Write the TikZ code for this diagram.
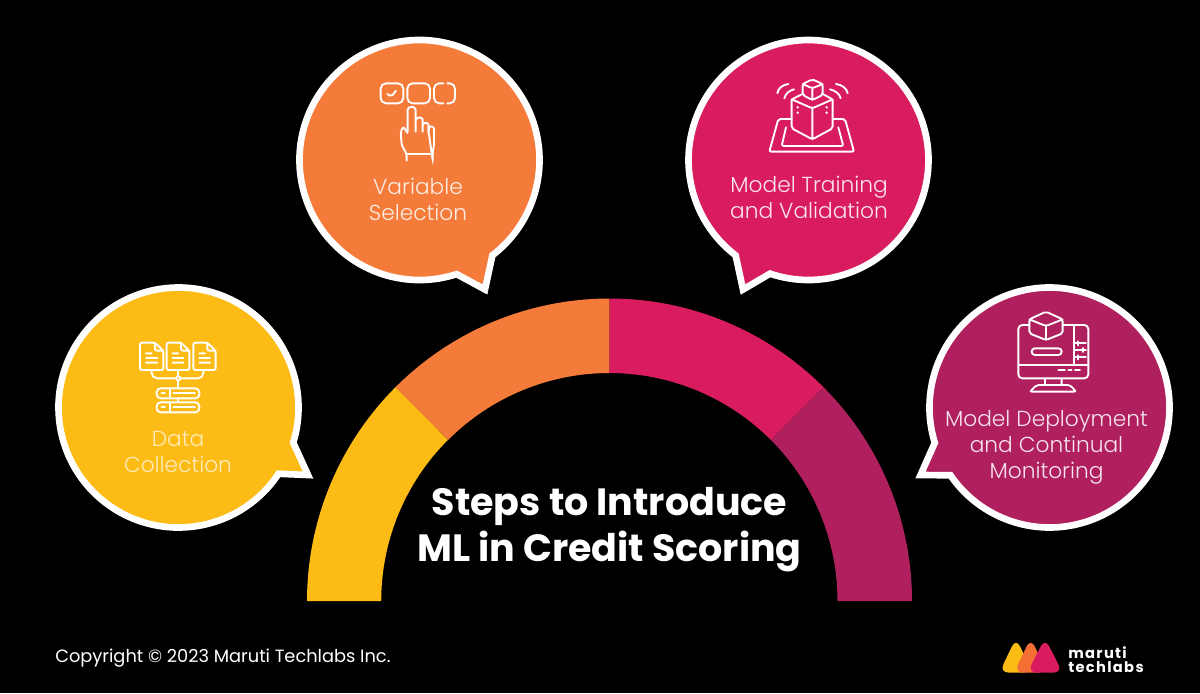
\documentclass[tikz,border=0pt]{standalone}
\usepackage{fontspec}
\setmainfont{Poppins}
\newfontfamily\poplight{Poppins Light}
\newfontfamily\logofont{Poppins}[LetterSpace=9]
\definecolor{ycol}{HTML}{FDBB16}
\definecolor{ocol}{HTML}{F47B3A}
\definecolor{pcol}{HTML}{D91C5F}
\definecolor{mcol}{HTML}{B01F5E}
\tikzset{
  bubble/.style={draw=white,line width=5pt,miter limit=10,line join=miter},
  icon/.style={draw=white,line width=1.4pt,rounded corners=1.5pt,line cap=round},
  labeltext/.style={text=white,align=center,inner sep=0pt,font=\poplight\fontsize{16.3pt}{19.5pt}\selectfont},
}

\begin{document}
\begin{tikzpicture}[x=0.75pt,y=0.75pt,yscale=-1,xscale=1]
\path[use as bounding box,fill=black] (0,0) rectangle (1200,693);

%Shape: ring parts
\fill[ycol] (307,601) arc[start angle=180,end angle=225,radius=302.5] -- (448,439.8) arc[start angle=225,end angle=180,radius=228] -- cycle;
\fill[ocol] (395.6,387.1) arc[start angle=225,end angle=270,radius=302.5] -- (609.5,373) arc[start angle=270,end angle=225,radius=228] -- cycle;
\fill[pcol] (609.5,298.5) arc[start angle=270,end angle=315,radius=302.5] -- (770.7,439.8) arc[start angle=315,end angle=270,radius=228] -- cycle;
\fill[mcol] (823.4,387.1) arc[start angle=315,end angle=360,radius=302.5] -- (837.5,601) arc[start angle=360,end angle=315,radius=228] -- cycle;

%Shape: speech bubbles
\draw[bubble,fill=ycol] (178.5,407.5) ++(33.5:120) arc[start angle=33.5,end angle=377,radius=120] -- (308,475) -- cycle;
\draw[bubble,fill=ocol] (419.5,160) ++(72:120) arc[start angle=72,end angle=412.6,radius=120] -- (485,289.5) -- cycle;
\draw[bubble,fill=pcol] (808.5,160) ++(127.4:120) arc[start angle=127.4,end angle=468.7,radius=120] -- (743,289.5) -- cycle;
\draw[bubble,fill=mcol] (1049.5,407.5) ++(162.9:120) arc[start angle=162.9,end angle=505.6,radius=120] -- (920.5,475) -- cycle;

%Shape: documents and rack icon
\begin{scope}[shift={(120,330)},scale=0.3333]
\draw[icon] (60,38) -- (105,38) -- (130,62) -- (130,120) -- (60,120) -- cycle (105,38) -- (105,62) -- (130,62) (78,70) -- (95,70) (78,84) -- (112,84) (78,98) -- (112,98);
\draw[icon] (140,38) -- (183,38) -- (208,62) -- (208,120) -- (140,120) -- cycle (183,38) -- (183,62) -- (208,62) (158,70) -- (175,70) (158,84) -- (190,84) (158,98) -- (190,98);
\draw[icon] (220,38) -- (262,38) -- (287,62) -- (287,120) -- (220,120) -- cycle (262,38) -- (262,62) -- (287,62) (238,70) -- (255,70) (238,84) -- (270,84) (238,98) -- (270,98);
\draw[icon,rounded corners=4pt] (95,120) -- (95,145) -- (250,145) -- (250,120);
\draw[icon] (175,120) -- (175,175) (175,205) -- (175,217);
\draw[icon,fill=ycol] (175,145) circle[radius=6];
\draw[icon,rounded corners=3pt] (110,175) rectangle (238,205) (110,217) rectangle (238,247);
\draw[icon] (125,190) -- (135,190) (160,190) -- (225,190) (125,232) -- (135,232) (160,232) -- (225,232) (150,175) -- (150,205) (150,217) -- (150,247);
\end{scope}

%Shape: checkbox and hand icon
\begin{scope}[shift={(360,70)},scale=0.3333]
\draw[icon,rounded corners=4pt] (62,40) rectangle (130,100) (142,40) rectangle (210,100);
\draw[icon,rounded corners=4pt] (250,40) -- (222,40) -- (222,100) -- (250,100) (262,40) -- (285,40) -- (285,100) -- (262,100);
\draw[icon] (82,72) -- (94,80) -- (108,62);
\draw[icon] (140,272) -- (140,252) -- (125,225) -- (122,185) -- (130,170) -- (143,190) -- (143,125) .. controls (143,108) and (167,108) .. (167,125) -- (167,185) (167,150) .. controls (172,138) and (188,142) .. (188,155) -- (188,185) (188,165) .. controls (192,155) and (205,158) .. (205,170) -- (205,188) (205,178) .. controls (210,165) and (222,172) .. (222,182) -- (222,225) -- (218,252) -- (218,272) -- cycle (140,252) -- (218,252);
\end{scope}

%Shape: box on map icon
\begin{scope}[shift={(750,70)},scale=0.3333]
\draw[icon] (187,28) -- (218,42) -- (218,75) -- (187,90) -- (158,75) -- (158,42) -- cycle (158,42) -- (187,55) -- (218,42) (187,55) -- (187,90);
\draw[icon] (158,72) -- (125,88) -- (187,115) -- (248,88) -- (218,72) (125,88) -- (125,175) -- (187,208) -- (248,175) -- (248,88) (187,115) -- (187,208);
\draw[icon] (125,147) -- (85,147) -- (58,245) -- (312,245) -- (285,147) -- (248,147) (108,172) -- (95,228) -- (280,228) -- (265,172);
\draw[icon] (82,70) .. controls (84,55) and (98,44) .. (115,42) (103,85) .. controls (106,72) and (116,62) .. (132,58) (293,70) .. controls (291,55) and (275,44) .. (258,42) (272,85) .. controls (269,72) and (257,62) .. (240,58);
\fill[white] (143,112) circle[radius=4] (143,128) circle[radius=4] (230,112) circle[radius=4] (230,128) circle[radius=4];
\end{scope}

%Shape: monitor and cube icon
\begin{scope}[shift={(1000,300)},scale=0.3333]
\draw[icon,rounded corners=3pt] (88,75) -- (55,75) -- (55,235) -- (265,235) -- (265,75) -- (188,75);
\draw[icon] (223,75) -- (223,195) (55,195) -- (265,195);
\draw[icon] (138,35) -- (188,58) -- (188,100) -- (138,120) -- (88,100) -- (88,58) -- cycle (88,58) -- (138,78) -- (188,58) (138,78) -- (138,120);
\draw[icon,rounded corners=2.4pt] (95,145) rectangle (185,165);
\draw[icon] (175,210) -- (195,210) (205,210) -- (215,210) (225,210) -- (240,210);
\draw[icon] (225,130) -- (258,130) (235,124) -- (235,136) (225,150) -- (258,150) (248,144) -- (248,156) (225,172) -- (258,172) (235,166) -- (235,178);
\draw[icon] (135,235) -- (135,255) (185,235) -- (185,255) (110,255) -- (210,255) -- (228,275) -- (90,275) -- cycle;
\end{scope}

%Shape: logo
\begin{scope}[shift={(990,630)},scale=0.3333]
\fill[ycol,rounded corners=7pt] (78,24) -- (128,128) -- (28,128) -- cycle;
\fill[ocol!90!red,rounded corners=7pt] (122,24) -- (172,128) -- (72,128) -- cycle;
\fill[pcol,rounded corners=7pt] (165,24) -- (218,128) -- (112,128) -- cycle;
\end{scope}

% Text Node
\node[labeltext,text=white!70!ycol] (datalabel) at (178,452) {Data\\Collection};
% Text Node
\node[labeltext,text=white!85!ocol] (varlabel) at (418,199) {Variable\\Selection};
% Text Node
\node[labeltext,text=white!88!pcol] (trainlabel) at (809,197) {Model Training\\and Validation};
% Text Node
\node[labeltext,text=white!88!mcol] (deploylabel) at (1046.5,447) {Model Deployment\\and Continual\\Monitoring};
% Text Node
\node[text=white,align=center,inner sep=0pt,font=\bfseries\fontsize{28.5pt}{34.5pt}\selectfont] (title) at (609.5,530) {Steps to Introduce\\ML in Credit Scoring};
% Text Node
\node[text=white,anchor=west,inner sep=0pt,font=\fontsize{13.35pt}{16pt}\selectfont] (copyright) at (55,658) {Copyright © 2023 Maruti Techlabs Inc.};
% Text Node
\node[text=white,anchor=base west,inner sep=0pt,font=\logofont\bfseries\fontsize{11pt}{12pt}\selectfont] (logotop) at (1068,658) {maruti};
% Text Node
\node[text=white,anchor=base west,inner sep=0pt,font=\logofont\bfseries\fontsize{11pt}{12pt}\selectfont] (logobottom) at (1068,672) {techlabs};

\end{tikzpicture}
\end{document}
